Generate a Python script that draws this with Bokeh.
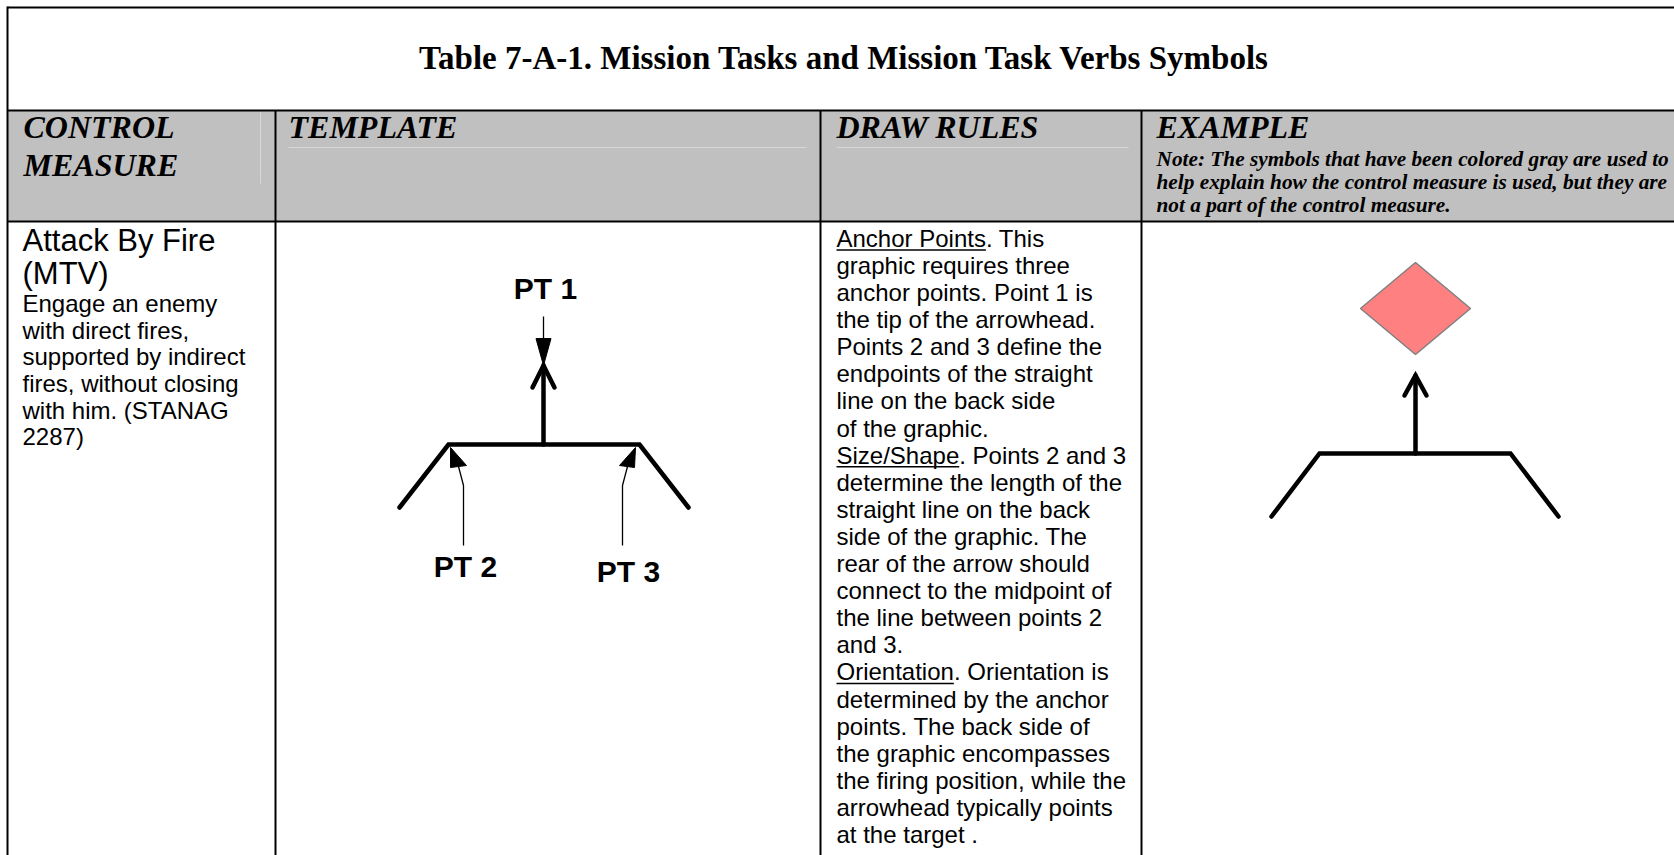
from bokeh.plotting import figure
from bokeh.models import Range1d
from bokeh.core.properties import value
from bokeh.embed import file_html
from bokeh.resources import INLINE

# ---------------- content ----------------
title = "Table 7-A-1.  Mission Tasks and Mission Task Verbs Symbols"
header_col0 = ["CONTROL", "MEASURE"]
header_titles = ["TEMPLATE", "DRAW RULES", "EXAMPLE"]
note_lines = [
    "Note: The symbols that have been colored gray are used to",
    "help explain how the control measure is used, but they are",
    "not a part of the control measure.",
]
measure_name = ["Attack By Fire", "(MTV)"]
measure_desc = [
    "Engage an enemy",
    "with direct fires,",
    "supported by indirect",
    "fires, without closing",
    "with him. (STANAG",
    "2287)",
]
draw_rules = [
    "Anchor Points. This",
    "graphic requires three",
    "anchor points. Point 1 is",
    "the tip of the arrowhead.",
    "Points 2 and 3 define the",
    "endpoints of the straight",
    "line on the back side",
    "of the graphic.",
    "Size/Shape. Points 2 and 3",
    "determine the length of the",
    "straight line on the back",
    "side of the graphic. The",
    "rear of the arrow should",
    "connect to the midpoint of",
    "the line between points 2",
    "and 3.",
    "Orientation. Orientation is",
    "determined by the anchor",
    "points. The back side of",
    "the graphic encompasses",
    "the firing position, while the",
    "arrowhead typically points",
    "at the target .",
]
underlined_terms = ["Anchor Points", "Size/Shape", "Orientation"]
pt_labels = ["PT 1", "PT 2", "PT 3"]

# ---------------- layout (page pixels) ----------------
PAGE_W, PAGE_H = 1674, 855
table_left, table_top = 7, 7
header_top, header_bottom = 110, 221
col_edges = [275, 820, 1141]

# symbol geometry: template (anchor points) and example
tpl_bar = dict(x0=448, x1=639, y=444, leg_dx=49, leg_dy=63, tip_y=365, stem_x=543)
ex_bar = dict(x0=1319, x1=1510, y=453, leg_dx=48, leg_dy=63, tip_y=375, stem_x=1415)
diamond = dict(cx=1415, cy=308, rx=55, ry=46)

ARIAL = {' ': 278, 'A': 667, 'P': 667, 'S': 667, 'O': 778, 'a': 556, 'b': 556,
         'c': 500, 'd': 556, 'e': 556, 'f': 278, 'g': 556, 'h': 556, 'i': 222,
         'k': 500, 'l': 222, 'm': 833, 'n': 556, 'o': 556, 'p': 556, 'r': 333,
         's': 500, 't': 278, 'u': 556, 'v': 500, 'w': 722, 'y': 500, 'z': 500,
         '/': 278, '.': 278, ',': 278}


def arial_width(s, size):
    return sum(ARIAL.get(ch, 556) for ch in s) / 1000.0 * size


def ty(baseline, size):
    # compensate the renderer's baseline offset so glyphs sit on `baseline`
    return baseline - 0.38 * size


SANS = value("Liberation Sans")
SERIF = value("Liberation Serif")

p = figure(width=PAGE_W, height=PAGE_H,
           x_range=Range1d(0, PAGE_W), y_range=Range1d(PAGE_H, 0),
           output_backend="svg", toolbar_location=None, min_border=0,
           x_axis_type=None, y_axis_type=None)
p.grid.visible = False
p.outline_line_color = None
p.background_fill_color = "white"
p.border_fill_color = "white"

# header band
p.quad(left=[table_left], right=[PAGE_W + 20], top=[header_top], bottom=[header_bottom],
       fill_color="#c0c0c0", line_color=None)
# faint lines inside header
p.segment(x0=[260], y0=[112], x1=[260], y1=[183], line_color="#d8d8d8", line_width=1)
p.segment(x0=[288, 836], y0=[147, 147], x1=[806, 1128], y1=[147, 147],
          line_color="#d8d8d8", line_width=1)

# table rules
hy = [table_top, header_top, header_bottom]
p.segment(x0=[table_left] * 3, y0=hy, x1=[PAGE_W + 20] * 3, y1=hy,
          line_color="black", line_width=2)
p.segment(x0=[table_left], y0=[table_top - 1], x1=[table_left], y1=[PAGE_H + 20],
          line_color="black", line_width=2)
p.segment(x0=col_edges, y0=[header_top] * 3, x1=col_edges, y1=[PAGE_H + 20] * 3,
          line_color="black", line_width=2)

# title
p.text(x=[848], y=[ty(70, 33)], text=[title], text_font=SERIF, text_font_style="bold",
       text_font_size="33px", text_align="center", text_baseline="alphabetic",
       text_color="black")

# header texts
p.text(x=[23, 23], y=[ty(139, 32), ty(177, 32)], text=header_col0, text_font=SERIF,
       text_font_style="bold italic", text_font_size="32px", text_baseline="alphabetic")
p.text(x=[288, 836, 1156], y=[ty(139, 32)] * 3, text=header_titles, text_font=SERIF,
       text_font_style="bold italic", text_font_size="32px", text_baseline="alphabetic")
p.text(x=[1156] * 3, y=[ty(b, 21.3) for b in (167, 190, 213)], text=note_lines,
       text_font=SERIF, text_font_style="bold italic", text_font_size="21.3px",
       text_baseline="alphabetic")

# column 0 body
p.text(x=[22, 22], y=[ty(252, 31), ty(285, 31)], text=measure_name, text_font=SANS,
       text_font_size="31px", text_baseline="alphabetic")
desc_base = [312 + 26.7 * i for i in range(len(measure_desc))]
p.text(x=[22] * len(measure_desc), y=[ty(b, 24) for b in desc_base],
       text=measure_desc, text_font=SANS, text_font_size="24px", text_baseline="alphabetic")

# draw rules column
dr_base = [247 + 27.1 * i for i in range(len(draw_rules))]
p.text(x=[836] * len(draw_rules), y=[ty(b, 24) for b in dr_base], text=draw_rules,
       text_font=SANS, text_font_size="24px", text_baseline="alphabetic")
ux0, ux1, uy = [], [], []
for line, yb in zip(draw_rules, dr_base):
    for term in underlined_terms:
        if line.startswith(term):
            ux0.append(836)
            ux1.append(836 + arial_width(term, 24))
            uy.append(yb + 2.5)
p.segment(x0=ux0, y0=uy, x1=ux1, y1=uy, line_color="black", line_width=1.5)


def draw_symbol(b, arm_dx=11, arm_dy=21):
    y = b["y"]
    xs = [[b["x0"] - b["leg_dx"], b["x0"], b["x1"], b["x1"] + b["leg_dx"]],
          [b["stem_x"], b["stem_x"]],
          [b["stem_x"] - arm_dx, b["stem_x"], b["stem_x"] + arm_dx]]
    ys = [[y + b["leg_dy"], y, y, y + b["leg_dy"]],
          [y, b["tip_y"]],
          [b["tip_y"] + arm_dy, b["tip_y"], b["tip_y"] + arm_dy]]
    p.multi_line(xs=xs, ys=ys, line_color="black", line_width=4.5,
                 line_join="miter", line_cap="round")


draw_symbol(tpl_bar, 11, 22)
draw_symbol(ex_bar, 11, 20)

# diamond (example target)
d = diamond
p.patch(x=[d["cx"], d["cx"] + d["rx"], d["cx"], d["cx"] - d["rx"]],
        y=[d["cy"] - d["ry"], d["cy"], d["cy"] + d["ry"], d["cy"]],
        fill_color="#ff8080", line_color="#808080", line_width=1.5)

# anchor-point pointers (thin lines + filled heads)
ptr_lines_x = [[543, 543], [463, 463, 458], [622, 622, 627]]
ptr_lines_y = [[316, 340], [545, 485, 466], [545, 485, 466]]
p.multi_line(xs=ptr_lines_x, ys=ptr_lines_y, line_color="black", line_width=1.3)
head_xs = [[535.5, 550.5, 543], [450, 466, 450], [619, 634, 635]]
head_ys = [[338, 338, 365], [467, 465, 447], [465, 467, 447]]
p.patches(xs=head_xs, ys=head_ys, fill_color="black", line_color="black", line_width=1)

# PT labels
p.text(x=[545, 465, 628], y=[ty(299, 30), ty(577, 30), ty(582, 30)], text=pt_labels,
       text_font=SANS, text_font_style="bold", text_font_size="30px", text_align="center",
       text_baseline="alphabetic")

open("out.html", "w").write(file_html(p, INLINE))
